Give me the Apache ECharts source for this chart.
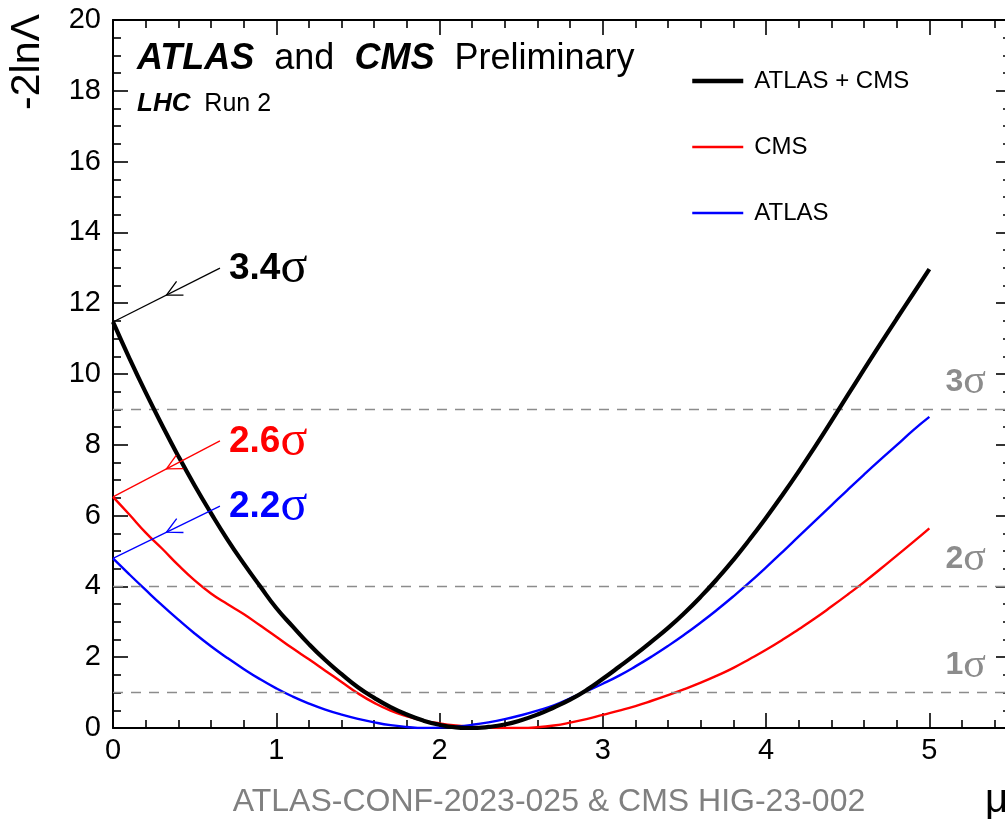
<!DOCTYPE html>
<html>
<head>
<meta charset="utf-8">
<script src="https://cdn.jsdelivr.net/npm/echarts@6/dist/echarts.min.js"></script>
<style>html,body{margin:0;padding:0;background:#fff}#c{width:1005px;height:819px}</style>
</head>
<body>
<div id="c"></div>
<script>
// ---- data ----
const mu = [0.0,0.1,0.2,0.3,0.4,0.5,0.6,0.7,0.8,0.9,1.0,1.1,1.2,1.3,1.4,1.5,1.6,1.7,1.8,1.9,2.0,2.1,2.2,2.3,2.4,2.5,2.6,2.7,2.8,2.9,3.0,3.1,3.2,3.3,3.4,3.5,3.6,3.7,3.8,3.9,4.0,4.1,4.2,4.3,4.4,4.5,4.6,4.7,4.8,4.9,5.0];
const atlasCms = [11.47,10.45,9.48,8.56,7.68,6.85,6.07,5.33,4.65,4.01,3.39,2.87,2.37,1.92,1.52,1.15,0.85,0.59,0.38,0.21,0.09,0.02,0.00,0.03,0.10,0.22,0.38,0.58,0.80,1.07,1.39,1.73,2.08,2.45,2.83,3.25,3.71,4.21,4.75,5.33,5.94,6.58,7.25,7.95,8.67,9.40,10.13,10.85,11.56,12.26,12.96];
const cms = [6.53,6.03,5.52,5.07,4.60,4.17,3.80,3.50,3.22,2.90,2.58,2.25,1.94,1.62,1.30,0.98,0.71,0.49,0.33,0.21,0.13,0.07,0.03,0.01,0.00,0.00,0.02,0.07,0.15,0.25,0.37,0.49,0.62,0.77,0.93,1.10,1.28,1.48,1.70,1.95,2.21,2.49,2.79,3.10,3.43,3.77,4.12,4.49,4.87,5.25,5.64];
const atlas = [4.79,4.34,3.90,3.47,3.06,2.67,2.31,1.98,1.67,1.38,1.12,0.89,0.69,0.52,0.38,0.26,0.16,0.08,0.03,0.00,0.01,0.04,0.09,0.16,0.25,0.36,0.49,0.64,0.84,1.04,1.25,1.48,1.74,2.02,2.32,2.64,2.98,3.34,3.72,4.12,4.54,4.97,5.41,5.85,6.29,6.73,7.16,7.58,7.99,8.41,8.79];
const seriesNames = ['ATLAS + CMS', 'CMS', 'ATLAS'];
const xMajorTicks = [0,1,2,3,4,5];
const xMinorTicks = [0.2,0.4,0.6,0.8,1.2,1.4,1.6,1.8,2.2,2.4,2.6,2.8,3.2,3.4,3.6,3.8,4.2,4.4,4.6,4.8,5.2,5.4];
const sigmaLevels = [1,4,9];
const sigmaNames = ['1','2','3'];
const significance = ['3.4','2.6','2.2'];
const sigLabelAnchor = [[0.655,12.99],[0.655,8.11],[0.655,6.27]];

// ---- styles ----
const SANS = 'Liberation Sans';
const SERIF = 'Liberation Serif';
const colors = ['#000000', '#ff0000', '#0000ff'];
const widths = [4.2, 2.4, 2.4];
const legendWidths = [4.5, 2.4, 2.4];

const chart = echarts.init(document.getElementById('c'), null, {renderer: 'canvas'});

function lineSeries(idx, ys, z) {
  return {
    name: seriesNames[idx], type: 'line', xAxisIndex: 0, yAxisIndex: 0,
    data: mu.map((x, i) => [x, ys[i]]),
    symbol: 'none', showSymbol: false, smooth: 0.5,
    lineStyle: {color: colors[idx], width: widths[idx]},
    itemStyle: {color: colors[idx]},
    emphasis: {disabled: true}, z: z, animation: false
  };
}

const annotations = [atlasCms, cms, atlas].map((ys, i) => [mu[0], ys[0], sigLabelAnchor[i][0], sigLabelAnchor[i][1]]);

function renderArrow(params, api) {
  const i = params.dataIndex;
  const c = colors[i];
  const p0 = api.coord([api.value(0), api.value(1)]);
  const p1 = api.coord([api.value(2), api.value(3)]);
  const mx = (p0[0] + p1[0]) / 2, my = (p0[1] + p1[1]) / 2;
  const ang = Math.atan2(p0[1] - p1[1], p0[0] - p1[0]);
  const L = 17, h = 0.47;
  const a1 = [mx - L * Math.cos(ang - h), my - L * Math.sin(ang - h)];
  const a2 = [mx - L * Math.cos(ang + h), my - L * Math.sin(ang + h)];
  return {
    type: 'group',
    children: [
      {type: 'line', shape: {x1: p0[0], y1: p0[1], x2: p1[0], y2: p1[1]}, style: {stroke: c, lineWidth: 1.3}},
      {type: 'polyline', shape: {points: [a1, [mx, my], a2]}, style: {stroke: c, fill: null, lineWidth: 1.3}},
      {type: 'text', x: p1[0] + 9, y: p1[1] + 1,
        style: {
          text: '{n|' + significance[i] + '}{s|σ}',
          align: 'left', verticalAlign: 'middle',
          rich: {
            n: {fontFamily: SANS, fontWeight: 'bold', fontSize: 37, fill: c},
            s: {fontFamily: SERIF, fontSize: 50, fill: c}
          }
        }}
    ]
  };
}

const axisLineStyle = {color: '#000', width: 2};
const tickStyle = {color: '#000', width: 1.6};

const blackSeries = lineSeries(0, atlasCms, 5);
blackSeries.markLine = {
  silent: true, symbol: ['none', 'none'], animation: false,
  lineStyle: {type: [10, 8], color: '#8c8c8c', width: 1.3},
  label: {
    show: true, position: 'insideEndTop', distance: [25, 6],
    rich: {
      n: {fontFamily: SANS, fontWeight: 'bold', fontSize: 32, color: '#8c8c8c'},
      s: {fontFamily: SERIF, fontSize: 42, color: '#8c8c8c'}
    }
  },
  data: sigmaLevels.map((v, i) => ({
    yAxis: v,
    label: {formatter: '{n|' + sigmaNames[i] + '}{s|σ}'}
  }))
};

const option = {
  animation: false,
  backgroundColor: '#ffffff',
  grid: [
    {left: 113, top: 20, width: 898, height: 708, containLabel: false, outerBoundsMode: 'none'},
    {left: 113, top: 20, width: 898, height: 708, containLabel: false, outerBoundsMode: 'none'}
  ],
  xAxis: [
    {gridIndex: 0, type: 'value', position: 'bottom', min: 0, max: 5.5,
      axisLine: {show: true, onZero: false, lineStyle: axisLineStyle},
      axisTick: {show: true, inside: true, length: 15, customValues: xMajorTicks, lineStyle: tickStyle},
      axisLabel: {show: true, customValues: xMajorTicks, fontSize: 29, color: '#000', fontFamily: SANS, margin: 8},
      splitLine: {show: false}},
    {gridIndex: 0, type: 'value', position: 'top', min: 0, max: 5.5,
      axisLine: {show: true, onZero: false, lineStyle: axisLineStyle},
      axisTick: {show: true, inside: true, length: 15, customValues: xMajorTicks, lineStyle: tickStyle},
      axisLabel: {show: false}, splitLine: {show: false}},
    {gridIndex: 1, type: 'value', position: 'bottom', min: 0, max: 5.5,
      axisLine: {show: false, onZero: false},
      axisTick: {show: true, inside: true, length: 8, customValues: xMinorTicks, lineStyle: tickStyle},
      axisLabel: {show: false}, splitLine: {show: false}},
    {gridIndex: 1, type: 'value', position: 'top', min: 0, max: 5.5,
      axisLine: {show: false, onZero: false},
      axisTick: {show: true, inside: true, length: 8, customValues: xMinorTicks, lineStyle: tickStyle},
      axisLabel: {show: false}, splitLine: {show: false}}
  ],
  yAxis: [
    {gridIndex: 0, type: 'value', position: 'left', min: 0, max: 20, interval: 2,
      axisLine: {show: true, onZero: false, lineStyle: axisLineStyle},
      axisTick: {show: true, inside: true, length: 15, lineStyle: tickStyle},
      minorTick: {show: true, splitNumber: 4, length: 8, lineStyle: tickStyle},
      axisLabel: {show: true, fontSize: 29, color: '#000', fontFamily: SANS, margin: 12},
      splitLine: {show: false}, minorSplitLine: {show: false}},
    {gridIndex: 0, type: 'value', position: 'right', min: 0, max: 20, interval: 2,
      axisLine: {show: true, onZero: false, lineStyle: axisLineStyle},
      axisTick: {show: true, inside: true, length: 15, lineStyle: tickStyle},
      minorTick: {show: true, splitNumber: 4, length: 8, lineStyle: tickStyle},
      axisLabel: {show: false},
      splitLine: {show: false}, minorSplitLine: {show: false}},
    {gridIndex: 1, type: 'value', min: 0, max: 20, show: false, splitLine: {show: false}}
  ],
  legend: {
    orient: 'vertical', left: 690, top: 69, padding: 0,
    itemWidth: 51, itemHeight: 22, itemGap: 42,
    selectedMode: false,
    itemStyle: {opacity: 0},
    data: seriesNames.map((n, i) => ({name: n, lineStyle: {width: legendWidths[i], color: colors[i]}})),
    textStyle: {fontSize: 24, color: '#000', fontFamily: SANS, lineHeight: 22, padding: [0, 0, 0, 6]}
  },
  series: [
    lineSeries(1, cms, 3),
    lineSeries(2, atlas, 4),
    blackSeries,
    {type: 'custom', xAxisIndex: 0, yAxisIndex: 0, data: annotations, renderItem: renderArrow,
      clip: false, silent: true, z: 10, animation: false}
  ],
  graphic: [
    {type: 'text', x: 137, y: 59, z: 100,
      style: {
        text: '{bi|ATLAS}{r|  and  }{bi|CMS}{r|  Preliminary}',
        verticalAlign: 'middle', align: 'left',
        rich: {
          bi: {fontFamily: SANS, fontWeight: 'bold', fontStyle: 'italic', fontSize: 36, fill: '#000'},
          r: {fontFamily: SANS, fontSize: 36, fill: '#000'}
        }
      }},
    {type: 'text', x: 137, y: 104, z: 100,
      style: {
        text: '{bi|LHC}{r|  Run 2}',
        verticalAlign: 'middle', align: 'left',
        rich: {
          bi: {fontFamily: SANS, fontWeight: 'bold', fontStyle: 'italic', fontSize: 26, fill: '#000'},
          r: {fontFamily: SANS, fontSize: 25, fill: '#000'}
        }
      }},
    {type: 'text', x: 28, y: 62, rotation: Math.PI / 2, z: 100,
      style: {text: '-2lnΛ', fontFamily: SANS, fontSize: 41, fill: '#000', align: 'center', verticalAlign: 'middle'}},
    {type: 'text', x: 985, y: 801, z: 100,
      style: {text: 'μ', fontFamily: SANS, fontSize: 40, fill: '#000', align: 'left', verticalAlign: 'middle'}},
    {type: 'text', x: 549, y: 802, z: 100,
      style: {text: 'ATLAS-CONF-2023-025 & CMS HIG-23-002', fontFamily: SANS, fontSize: 32, fill: '#808080', align: 'center', verticalAlign: 'middle'}}
  ]
};
chart.setOption(option);
</script>
</body>
</html>
